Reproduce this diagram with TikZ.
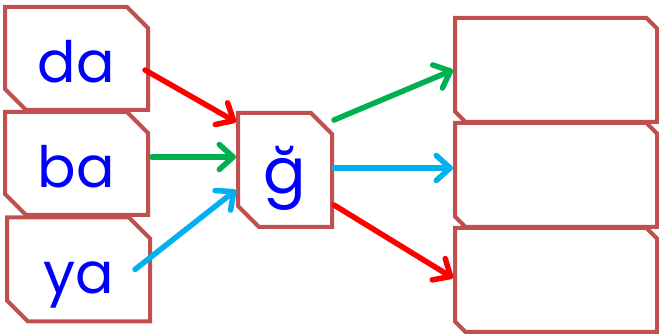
\documentclass[tikz,border=0pt]{standalone}
\usepackage{fontspec}
\setsansfont{Poppins}
\usetikzlibrary{arrows.meta,shapes.misc}
\definecolor{cardred}{RGB}{192,80,77}
\definecolor{arrowgreen}{RGB}{0,176,80}
\definecolor{arrowcyan}{RGB}{0,176,240}

\begin{document}
\begin{tikzpicture}[x=1pt, y=-1pt, >={Straight Barb[round, length=14pt, width=25pt]},
	card/.style={chamfered rectangle, chamfered rectangle corners={north east,south west}, chamfered rectangle xsep=10.5pt, chamfered rectangle ysep=10.5pt, draw=cardred, line width=4pt, inner sep=0pt, text=blue, text height=48pt, text depth=0pt, font=\sffamily\fontsize{57}{57}\selectfont},
	link/.style={->, line width=5.5pt, line cap=round}]
	\useasboundingbox (0,0) rectangle (659,336);
	\node[card, minimum width=143pt, minimum height=103pt] (da) at (76.5,58.5) {da};
	\node[card, minimum width=143pt, minimum height=103pt] (ba) at (76.5,163.5) {ba};
	\node[card, minimum width=143pt, minimum height=104pt] (ya) at (78.5,269.5) {ya};
	\node[card, minimum width=94pt, minimum height=114pt, text height=48pt, font=\sffamily\fontsize{63}{63}\selectfont] (g) at (285,170) {ğ};
	\foreach \n/\y in {r1/70, r2/175, r3/280}
		\node[card, minimum width=202pt, minimum height=104pt] (\n) at (556,\y) {};
	\draw[link, red] ([xshift=-5pt, yshift=-11.5pt]da.east) -- ([yshift=48pt]g.west);
	\draw[link, arrowgreen] ([xshift=2pt, yshift=6.5pt]ba.east) -- ([yshift=13pt]g.west);
	\draw[link, arrowcyan] ([xshift=-17pt]ya.east) -- ([yshift=-20pt]g.west);
	\draw[link, arrowgreen] ([yshift=50pt]g.east) -- (r1.west);
	\draw[link, arrowcyan] ([yshift=2pt]g.east) -- ([yshift=7pt]r2.west);
	\draw[link, red] ([yshift=-35pt]g.east) -- ([yshift=2pt]r3.west);
\end{tikzpicture}
\end{document}
